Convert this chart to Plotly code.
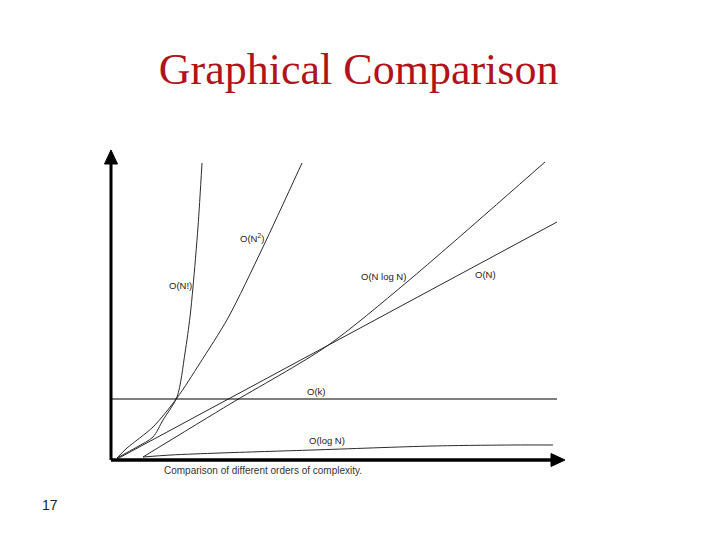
import plotly.graph_objects as go

# Curves (x, y in plot units: right/up from the origin)
fact_x = [6, 26, 42, 52, 66, 74, 79, 82, 87, 91]
fact_y = [2, 13, 23, 40, 63, 107, 143, 173, 233, 297]

sq_x = [6, 16, 42, 66, 89, 117, 152, 191]
sq_y = [2, 12, 33, 62, 97, 142, 213, 297]

nlog_x = [32, 119, 216, 296, 434]
nlog_y = [3, 56, 114, 178, 298]

lin_x = [6, 446]
lin_y = [1, 238]

const_x = [0, 446]
const_y = [61, 61]

log_x = [32, 60, 109, 202, 322, 402, 442]
log_y = [3, 5, 7, 10, 14, 15, 15]

labels = ["O(N!)", "O(N<sup>2</sup>)", "O(N log N)", "O(N)", "O(k)", "O(log N)"]
label_x = [69, 141, 272, 374, 205, 216]
label_y = [175, 222, 184, 186, 69, 20]

# Axis extents (plot units)
x_end = 454
y_end = 310

fig = go.Figure()
curve_color = "#2a2a2a"
for xs, ys in [(fact_x, fact_y), (sq_x, sq_y), (nlog_x, nlog_y), (lin_x, lin_y), (log_x, log_y)]:
    fig.add_trace(go.Scatter(x=xs, y=ys, mode="lines", line=dict(color=curve_color, width=1, shape="spline", smoothing=0.8),
                             hoverinfo="skip", showlegend=False))
fig.add_trace(go.Scatter(x=const_x, y=const_y, mode="lines", line=dict(color="black", width=1.2),
                         hoverinfo="skip", showlegend=False))

for t, x, y in zip(labels, label_x, label_y):
    fig.add_annotation(x=x, y=y, text=t, showarrow=False, xanchor="center", yanchor="middle",
                       font=dict(family="Arial", size=9.5, color="#222"))

# Axes with arrowheads
head_len, head_half = 14, 6.5
fig.add_shape(type="line", x0=0, y0=0, x1=x_end - head_len + 2, y1=0, line=dict(color="black", width=3.5))
fig.add_shape(type="path", path=f"M {x_end - head_len},{-head_half} L {x_end},0 L {x_end - head_len},{head_half} Z",
              fillcolor="black", line=dict(color="black", width=1))
fig.add_shape(type="line", x0=0, y0=0, x1=0, y1=y_end - head_len + 2, line=dict(color="black", width=3))
fig.add_shape(type="path", path=f"M {-head_half},{y_end - head_len} L 0,{y_end} L {head_half},{y_end - head_len} Z",
              fillcolor="black", line=dict(color="black", width=1))

fig.add_annotation(x=0.1266, y=-0.008, xref="paper", yref="paper",
                   text="Comparison of different orders of complexity.", showarrow=False,
                   xanchor="left", yanchor="middle", font=dict(family="Arial", size=10, color="#333"))
fig.add_annotation(x=-0.1137, y=-0.1156, xref="paper", yref="paper", text="17", showarrow=False,
                   xanchor="center", yanchor="middle", font=dict(family="Arial", size=14, color="#222"))

fig.update_layout(
    width=720, height=540,
    margin=dict(l=95, r=159, t=140, b=80),
    paper_bgcolor="white", plot_bgcolor="white",
    title=dict(text="Graphical Comparison", x=0.487, xanchor="center", y=0.888, yanchor="middle",
               font=dict(family="Liberation Serif, Times New Roman, serif", size=44, color="#B0141A")),
    xaxis=dict(range=[-8, 458], visible=False, fixedrange=True),
    yaxis=dict(range=[-8, 312], visible=False, fixedrange=True),
)

fig.write_html("out.html")
